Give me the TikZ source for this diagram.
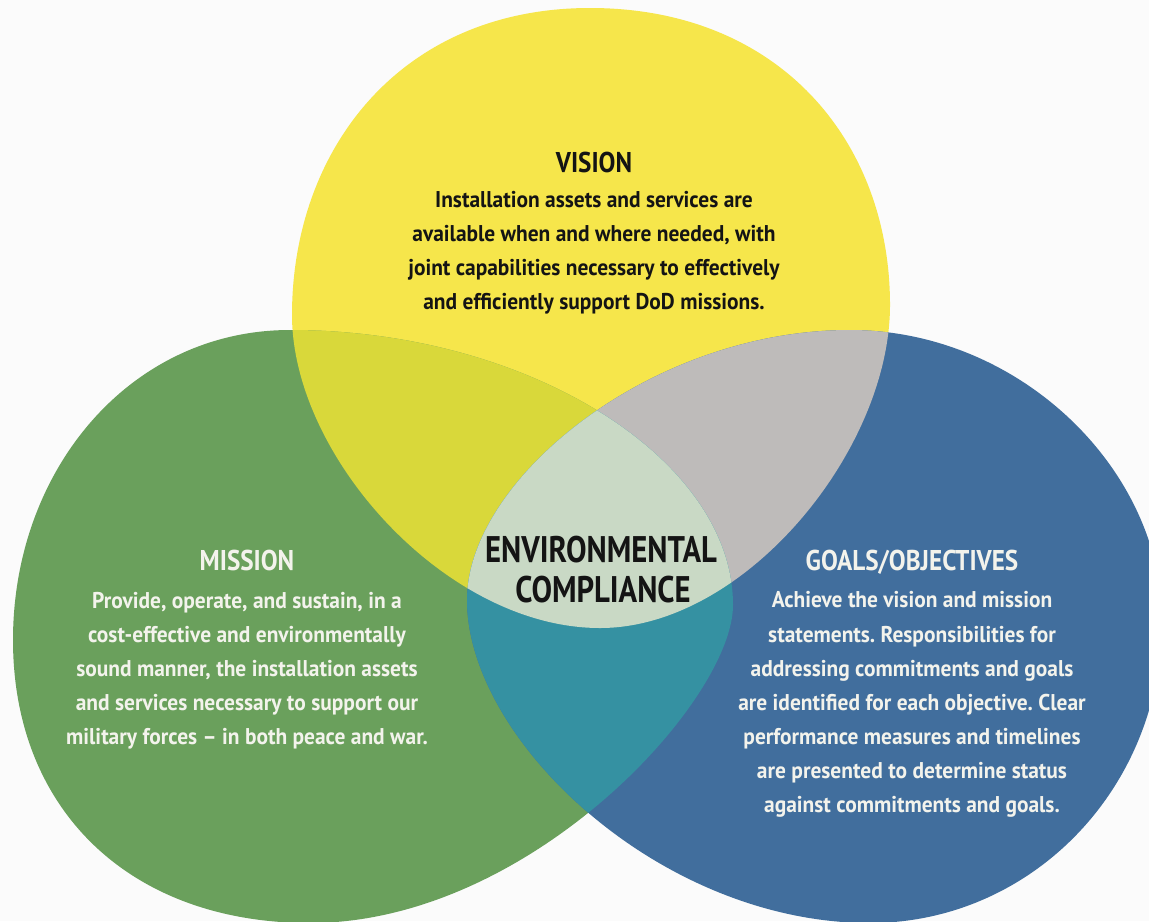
\documentclass[tikz,border=0pt]{standalone}
\usepackage{fontspec}
\setmainfont{PT Sans}
\newfontfamily\fbody{PT Sans}[FakeStretch=0.94]
\newfontfamily\ftitle{PT Sans}[FakeStretch=0.88]
\newfontfamily\fcenter{PT Sans}[FakeStretch=0.83]
\definecolor{bgc}{HTML}{FBFBFB}
\definecolor{yel}{HTML}{F6E64B}
\definecolor{grn}{HTML}{6AA05C}
\definecolor{blu}{HTML}{416E9D}
\definecolor{oli}{HTML}{D9D83A}
\definecolor{gry}{HTML}{BEBBBA}
\definecolor{tea}{HTML}{3591A2}
\definecolor{lns}{HTML}{C9D9C5}
\definecolor{inkd}{HTML}{141414}
\definecolor{inkl}{HTML}{F3F3EC}
\newcommand\dgbody{\fbody\bfseries\fontsize{11.4}{13}\selectfont}
\newcommand\dgtitle{\ftitle\bfseries\fontsize{14.3}{16}\selectfont}
\newcommand\dgcenter{\fcenter\bfseries\fontsize{18.5}{20}\selectfont}
\newcommand\pathY{(590,8) .. controls (780,8) and (890,142) .. (890,305) .. controls (890,450) and (745,628) .. (600,628) .. controls (446,628) and (292,456) .. (292,315) .. controls (292,150) and (400,8) .. (590,8) -- cycle}
\newcommand\pathG{(290,330) .. controls (530,330) and (733,460) .. (733,605) .. controls (733,700) and (530,923) .. (310,923) .. controls (130,923) and (13,810) .. (13,640) .. controls (13,470) and (130,330) .. (290,330) -- cycle}
\newcommand\pathB{(850,330) .. controls (1020,330) and (1162,470) .. (1162,620) .. controls (1162,790) and (1030,923) .. (870,923) .. controls (660,923) and (467,740) .. (467,600) .. controls (467,480) and (650,330) .. (850,330) -- cycle}
\tikzset{
  dk/.style={anchor=base, inner sep=0pt, text=inkd},
  lt/.style={anchor=base, inner sep=0pt, text=inkl},
  bd/.style={font=\dgbody},
  tt/.style={font=\dgtitle},
  cc/.style={font=\dgcenter}
}
\begin{document}
\frenchspacing
\begin{tikzpicture}[x=0.5pt,y=-0.5pt]
\useasboundingbox (0,0) rectangle (1149,921);
\clip (0,0) rectangle (1149,921);
\fill[bgc] (0,0) rectangle (1149,921);
\fill[yel] \pathY;
\fill[grn] \pathG;
\fill[blu] \pathB;
\begin{scope}
  \clip \pathY;
  \fill[oli] \pathG;
  \fill[gry] \pathB;
\end{scope}
\begin{scope}
  \clip \pathG;
  \fill[tea] \pathB;
\end{scope}
\begin{scope}
  \clip \pathY;
  \clip \pathG;
  \fill[lns] \pathB;
\end{scope}
% VISION
\node[dk,tt] (v0) at (594,172) {VISION};
\node[dk,bd] (v1) at (594,207) {Installation assets and services are};
\node[dk,bd] (v2) at (594,241) {available when and where needed, with};
\node[dk,bd] (v3) at (594,275) {joint capabilities necessary to effectively};
\node[dk,bd] (v4) at (594,309) {and efficiently support DoD missions.};
% MISSION
\node[lt,tt] (m0) at (247,570) {MISSION};
\node[lt,bd] (m1) at (247,608) {Provide, operate, and sustain, in a};
\node[lt,bd] (m2) at (247,642) {cost-effective and environmentally};
\node[lt,bd] (m3) at (247,676) {sound manner, the installation assets};
\node[lt,bd] (m4) at (247,710) {and services necessary to support our};
\node[lt,bd] (m5) at (247,744) {military forces – in both peace and war.};
% GOALS
\node[lt,tt] (g0) at (912,570) {GOALS/OBJECTIVES};
\node[lt,bd] (g1) at (912,607) {Achieve the vision and mission};
\node[lt,bd] (g2) at (912,642) {statements. Responsibilities for};
\node[lt,bd] (g3) at (912,676) {addressing commitments and goals};
\node[lt,bd] (g4) at (912,710) {are identified for each objective. Clear};
\node[lt,bd] (g5) at (912,744) {performance measures and timelines};
\node[lt,bd] (g6) at (912,778) {are presented to determine status};
\node[lt,bd] (g7) at (912,812) {against commitments and goals.};
% CENTER
\node[dk,cc] (e1) at (601,562) {ENVIRONMENTAL};
\node[dk,cc] (e2) at (603,602) {COMPLIANCE};
\end{tikzpicture}
\end{document}
